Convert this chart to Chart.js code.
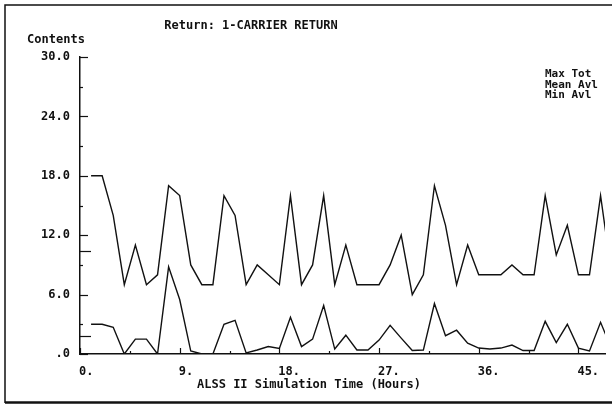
<!DOCTYPE html>
<html>
<head>
<meta charset="utf-8">
<script src="https://cdn.jsdelivr.net/npm/chart.js@4/dist/chart.umd.min.js"></script>
<style>
  html, body { margin: 0; padding: 0; background: #fff; overflow: hidden; }
  #wrap { position: relative; width: 612px; height: 407px; }
</style>
</head>
<body>
<div id="wrap"><canvas id="chartCanvas" width="612" height="407"></canvas></div>
<script>
// simulation hours
const hours = [1, 2, 3, 4, 5, 6, 7, 8, 9, 10, 11, 12, 13, 14, 15, 16, 17, 18, 19, 20, 21, 22, 23, 24,
  25, 26, 27, 28, 29, 30, 31, 32, 33, 34, 35, 36, 37, 38, 39, 40, 41, 42, 43, 44, 45, 46, 47, 48];

const maxTot = [18, 18, 14, 7, 11, 7, 8, 17, 16, 9, 7, 7, 16, 14, 7, 9, 8, 7, 16, 7, 9, 16, 7, 11,
  7, 7, 7, 9, 12, 6, 8, 17, 13, 7, 11, 8, 8, 8, 9, 8, 8, 16, 10, 13, 8, 8, 16, 8];

const meanAvl = [3.0, 3.0, 2.7, 0, 1.5, 1.5, 0, 8.8, 5.5, 0.3, 0, 0, 3.0, 3.4, 0.1, 0.4, 0.75, 0.55, 3.7, 0.75, 1.5, 4.9, 0.5, 1.9,
  0.4, 0.4, 1.4, 2.9, 1.6, 0.35, 0.4, 5.1, 1.85, 2.4, 1.1, 0.6, 0.5, 0.6, 0.9, 0.35, 0.35, 3.3, 1.15, 3.0, 0.6, 0.3, 3.2, 0.5];

const minAvl = [0, 0, 0, 0, 0, 0, 0, 0, 0, 0, 0, 0, 0, 0, 0, 0, 0, 0, 0, 0, 0, 0, 0, 0,
  0, 0, 0, 0, 0, 0, 0, 0, 0, 0, 0, 0, 0, 0, 0, 0, 0, 0, 0, 0, 0, 0, 0, 0];

const seriesNames = ["Max Tot", "Mean Avl", "Min Avl"];
const xTickLabels = ["0.", "9.", "18.", "27.", "36.", "45."];
const yTickLabels = [".0", "6.0", "12.0", "18.0", "24.0", "30.0"];
const meanMarks = [10.4, 1.85];

const FONT = "'DejaVu Sans Mono', 'Liberation Mono', monospace";
const INK = "#111";

function toPoints(values)
{
  let pts = [];
  for(let i = 0; i < hours.length; i++)
  {
    pts.push({x: hours[i], y: values[i]});
  }
  return pts;
}

// frame, texts and inward tick marks
const decorPlugin = {
  id: 'decor',
  afterDraw(chart)
  {
    const ctx = chart.ctx;
    const xs = chart.scales.x;
    const ys = chart.scales.y;
    const area = chart.chartArea;

    ctx.save();
    ctx.strokeStyle = INK;

    // outer frame
    ctx.lineWidth = 1.5;
    ctx.beginPath();
    ctx.moveTo(612, 5); ctx.lineTo(5, 5); ctx.lineTo(5, 403);
    ctx.stroke();
    ctx.lineWidth = 2.5;
    ctx.beginPath();
    ctx.moveTo(5, 402.5); ctx.lineTo(612, 402.5);
    ctx.stroke();

    // y ticks (inward)
    ctx.lineWidth = 1.2;
    ys.ticks.forEach(t => {
      let len = (Math.round(t.value) % 6 == 0) ? 8 : 3;
      let py = Math.round(ys.getPixelForValue(t.value)) + 0.5;
      ctx.beginPath();
      ctx.moveTo(area.left, py); ctx.lineTo(area.left + len, py);
      ctx.stroke();
    });
    meanMarks.forEach(v => {
      let py = Math.round(ys.getPixelForValue(v)) + 0.5;
      ctx.beginPath();
      ctx.moveTo(area.left, py); ctx.lineTo(area.left + 11, py);
      ctx.stroke();
    });

    // x ticks (inward)
    xs.ticks.forEach(t => {
      let len = (Math.round(t.value * 2) % 18 == 0) ? 6 : 3;
      let px = Math.round(xs.getPixelForValue(t.value)) + 0.5;
      ctx.beginPath();
      ctx.moveTo(px, area.bottom); ctx.lineTo(px, area.bottom - len);
      ctx.stroke();
    });

    // texts
    ctx.fillStyle = INK;
    ctx.textBaseline = 'middle';
    ctx.font = "bold 12px " + FONT;
    ctx.textAlign = 'center';
    ctx.fillText("Return: 1-CARRIER RETURN", 251, 26);
    ctx.fillText("Contents", 56, 40);
    ctx.fillText("ALSS II Simulation Time (Hours)", 309, 385);

    ctx.font = "bold 11px " + FONT;
    ctx.textAlign = 'left';
    for(let i = 0; i < seriesNames.length; i++)
    {
      ctx.fillText(seriesNames[i], 545, 74.5 + i * 10.5);
    }
    ctx.restore();
  }
};

const lineStyle = {
  borderColor: INK,
  borderWidth: 1.4,
  pointRadius: 0,
  tension: 0,
  fill: false
};

new Chart(document.getElementById("chartCanvas"), {
  type: 'line',
  data: {
    datasets: [
      Object.assign({label: seriesNames[0], data: toPoints(maxTot)}, lineStyle),
      Object.assign({label: seriesNames[1], data: toPoints(meanAvl)}, lineStyle),
      Object.assign({label: seriesNames[2], data: toPoints(minAvl)}, lineStyle)
    ]
  },
  options: {
    responsive: false,
    animation: false,
    events: [],
    layout: { padding: { top: 57, right: 7, left: 0, bottom: 0 } },
    plugins: {
      legend: { display: false },
      tooltip: { enabled: false },
      title: { display: false }
    },
    scales: {
      x: {
        type: 'linear',
        min: 0,
        max: 47.4,
        afterFit: s => { s.height = 53; },
        grid: { display: false, drawTicks: false },
        border: { display: true, color: INK, width: 1.5 },
        ticks: {
          stepSize: 4.5,
          includeBounds: false,
          autoSkip: false,
          maxRotation: 0,
          align: 'start',
          labelOffset: -1,
          padding: 11,
          color: INK,
          font: { family: FONT, size: 12, weight: 'bold' },
          callback: function(value) {
            let k = Math.round(value * 2);
            if(k % 18 != 0) return '';
            return xTickLabels[k / 18];
          }
        }
      },
      y: {
        min: 0,
        max: 30,
        afterFit: s => { s.width = 80; },
        grid: { display: false, drawTicks: false },
        border: { display: true, color: INK, width: 1.5 },
        ticks: {
          stepSize: 3,
          autoSkip: false,
          padding: 10,
          color: INK,
          font: { family: FONT, size: 12, weight: 'bold' },
          callback: function(value) {
            let k = Math.round(value);
            if(k % 6 != 0) return '';
            return yTickLabels[k / 6];
          }
        }
      }
    }
  },
  plugins: [decorPlugin]
});
</script>
</body>
</html>
